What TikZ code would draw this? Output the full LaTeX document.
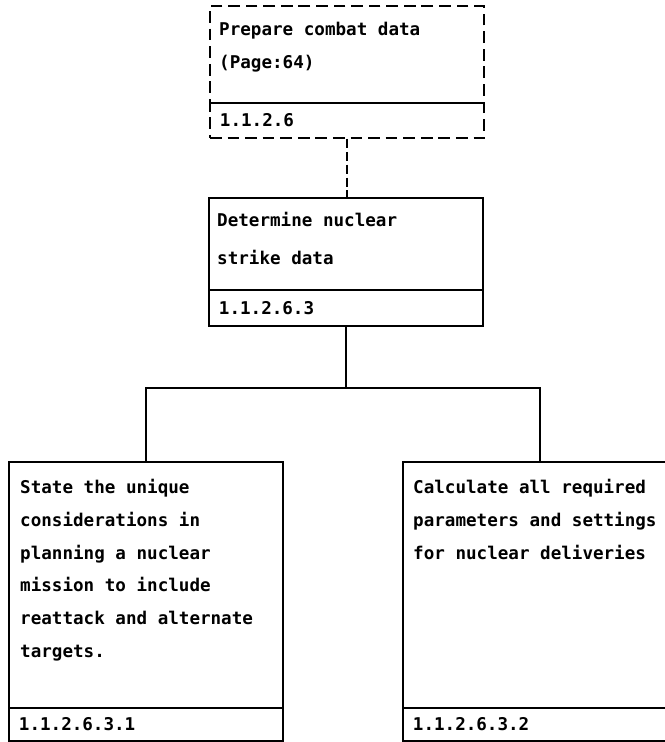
\documentclass[tikz,border=0pt]{standalone}
\usepackage{fontspec}
\newfontfamily\dotfont{DejaVu Sans Mono}
\begin{document}
\begin{tikzpicture}[x=0.03cm,y=-0.03cm,
	box/.style={draw,line width=1.6pt,anchor=north west,inner sep=0pt,minimum width=8.22cm},
	boxdash/.style={dash pattern=on 10pt off 5pt},
	numbox/.style={box,text width=7.62cm,inner xsep=0.3cm,align=left,font=\dotfont\bfseries\fontsize{15}{18}\selectfont},
	txt/.style={anchor=north west,inner sep=0pt,align=left,font=\dotfont\bfseries\fontsize{15}{28}\selectfont},
	link/.style={line width=1.1pt}]
	\clip (0,0) rectangle (665,742);

	\node[box,boxdash,minimum height=2.91cm] (prep) at (209,5) {};
	\node[numbox,boxdash,minimum height=1.05cm] (prepnum) at (209,102) {1.1.2.6};
	\node[txt] (preptext) at (219,22) {Prepare combat data\\(Page:64)};

	\node[box,minimum height=2.76cm] (det) at (208,197) {};
	\node[numbox,minimum height=1.08cm] (detnum) at (208,289) {1.1.2.6.3};
	\node[txt,font=\dotfont\bfseries\fontsize{15}{32}\selectfont] (dettext) at (217,212) {Determine nuclear\\strike data};

	\node[box,minimum height=7.38cm] (state) at (8,461) {};
	\node[numbox,minimum height=0.99cm] (statenum) at (8,707) {1.1.2.6.3.1};
	\node[txt] (statetext) at (20,479) {State the unique\\considerations in\\planning a nuclear\\mission to include\\reattack and alternate\\targets.};

	\node[box,minimum height=7.38cm] (calc) at (402,461) {};
	\node[numbox,minimum height=0.99cm] (calcnum) at (402,707) {1.1.2.6.3.2};
	\node[txt] (calctext) at (413,479) {Calculate all required\\parameters and settings\\for nuclear deliveries};

	\path (detnum.south) ++(0,61) coordinate (split);
	\draw[link,dash pattern=on 8pt off 3pt] (prepnum.south) -- (prepnum.south |- det.north);
	\draw[link] (detnum.south) -- (split);
	\draw[link] (state.north) |- (split) -| (calc.north);
\end{tikzpicture}
\end{document}
